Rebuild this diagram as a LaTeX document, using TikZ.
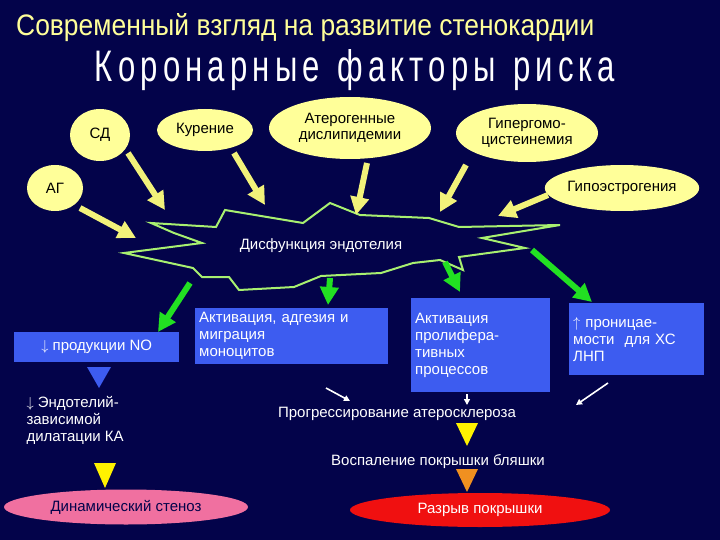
\documentclass[tikz,border=0pt]{standalone}
\usepackage{fontspec}
\usepackage{graphicx}
\setmainfont{Liberation Sans}
\usetikzlibrary{shapes.geometric,arrows.meta}
\definecolor{bg}{HTML}{03034A}
\definecolor{ylw}{HTML}{FFFF99}
\definecolor{ylwa}{HTML}{F2F27A}
\definecolor{grn}{HTML}{22E022}
\definecolor{lgrn}{HTML}{A8F070}
\definecolor{bbox}{HTML}{3D5CF0}
\definecolor{pinkc}{HTML}{F070A0}
\definecolor{redc}{HTML}{F01010}
\definecolor{orng}{HTML}{F09020}
\tikzset{
  risk/.style={ellipse,fill=ylw,text=black,align=center,inner sep=0pt,font=\fontsize{15}{16}\selectfont},
  fat/.style={ylwa,line width=6pt,-{Triangle[width=18pt,length=18pt]}},
  gfat/.style={grn,line width=6pt,-{Triangle[width=18pt,length=18pt]}},
  bluebox/.style={fill=bbox,text=white,align=left,anchor=north west,inner sep=4pt,font=\fontsize{15}{17}\selectfont},
  wtext/.style={text=white,font=\fontsize{15}{17}\selectfont},
  warr/.style={white,line width=1.6pt,-{Triangle[width=6pt,length=6pt]}}
}
\begin{document}
\begin{tikzpicture}[x=1pt,y=-1pt]
\fill[bg] (0,0) rectangle (720,540);
\useasboundingbox (0,0) rectangle (720,540);
\node[anchor=west,text=ylw,inner sep=0] (t1) at (16,28) {\resizebox{578pt}{22pt}{Современный взгляд на развитие стенокардии}};
\node[text=white,inner sep=0] (t2) at (355,70) {\resizebox{520pt}{32pt}{К\,о\,р\,о\,н\,а\,р\,н\,ы\,е\ \ ф\,а\,к\,т\,о\,р\,ы\ \ р\,и\,с\,к\,а}};
% risk factors
\node[risk,minimum width=60pt,minimum height=52pt] (sd) at (100,135) {СД};
\node[risk,minimum width=96pt,minimum height=42pt] (kur) at (205,130) {Курение};
\node[risk,minimum width=162pt,minimum height=62pt] (ater) at (350,128) {Атерогенные\\дислипидемии};
\node[risk,minimum width=142pt,minimum height=58pt] (hyp) at (527,133) {Гипергомо-\\цистеинемия};
\node[risk,minimum width=56pt,minimum height=46pt] (ag) at (55,188) {АГ};
\node[risk,minimum width=142pt,minimum height=46pt] (hypo) at (622,188) {Гипоэстрогения};
% starburst
\filldraw[draw=lgrn,fill=bg,line width=2pt] (225,210)--(303,223)--(330,203)--(360,215)--(429,218)--(459,227)--(560,225)--(482,238)--(525,248)--(459,257)--(463,270)--(440,260)--(413,263)--(381,273)--(321,276)--(294,287)--(239,290)--(229,277)--(202,277)--(193,268)--(124,253)--(202,243)--(174,233)--(151,223)--(216,227)--cycle;
\node[wtext] (dys) at (321,246) {Дисфункция эндотелия};
% yellow arrows
\coordinate (sda) at (128,153); \coordinate (sdb) at (165,210);
\coordinate (kua) at (234,153); \coordinate (kub) at (265,205);
\coordinate (ata) at (367,163); \coordinate (atb) at (356,215);
\coordinate (hya) at (466,165); \coordinate (hyb) at (440,212);
\coordinate (hoa) at (548,195); \coordinate (hob) at (498,216);
\coordinate (aga) at (80,208); \coordinate (agb) at (136,238);
\draw[fat] (sda)--(sdb);
\draw[fat] (kua)--(kub);
\draw[fat] (ata)--(atb);
\draw[fat] (hya)--(hyb);
\draw[fat] (hoa)--(hob);
\draw[fat] (aga)--(agb);
% green arrows
\coordinate (g1a) at (190,283); \coordinate (g1b) at (158,332);
\coordinate (g2a) at (330,278); \coordinate (g2b) at (328,305);
\coordinate (g3a) at (445,262); \coordinate (g3b) at (460,292);
\coordinate (g4a) at (532,250); \coordinate (g4b) at (592,302);
\draw[gfat] (g1a)--(g1b);
\draw[gfat] (g2a)--(g2b);
\draw[gfat] (g3a)--(g3b);
\draw[gfat] (g4a)--(g4b);
% boxes
\node[bluebox,minimum width=165pt,minimum height=30pt,anchor=west] (no) at (14,347) {$\downarrow$ продукции NO};
\node[bluebox,text width=185pt] (mono) at (195,308) {Активация, адгезия и\\миграция\\моноцитов};
\node[bluebox,text width=131pt,minimum height=94pt] (prol) at (411,298) {Активация\\пролифера-\\тивных\\процессов};
\node[bluebox,text width=127pt,minimum height=72pt] (perm) at (569,303) {$\uparrow$ проницае-\\мости\ \ для ХС\\ЛНП};
% left chain
\fill[bbox] (87,367)--(111,367)--(99,388)--cycle;
\node[wtext,align=left,anchor=north west] (endo) at (23,393) {$\downarrow$ Эндотелий-\\зависимой\\дилатации КА};
\fill[yellow] (94,463)--(116,463)--(105,488)--cycle;
\node[ellipse,fill=pinkc,minimum width=244pt,minimum height=35pt,text=bg,font=\fontsize{15}{17}\selectfont] (dyn) at (126,507) {Динамический стеноз};
% right chain
\node[wtext] (prog) at (397,414) {Прогрессирование атеросклероза};
\coordinate (w1a) at (326,388); \coordinate (w1b) at (350,401);
\coordinate (w2a) at (467,394); \coordinate (w2b) at (467,405);
\coordinate (w3a) at (608,383); \coordinate (w3b) at (576,405);
\draw[warr] (w1a)--(w1b);
\draw[warr] (w2a)--(w2b);
\draw[warr] (w3a)--(w3b);
\fill[yellow] (456,423)--(478,423)--(467,446)--cycle;
\node[wtext] (vosp) at (438,462) {Воспаление покрышки бляшки};
\fill[orng] (456,469)--(478,469)--(467,492)--cycle;
\node[ellipse,fill=redc,minimum width=260pt,minimum height=34pt,text=white,font=\fontsize{15}{17}\selectfont] (razr) at (480,510) {Разрыв покрышки};
\end{tikzpicture}
\end{document}
